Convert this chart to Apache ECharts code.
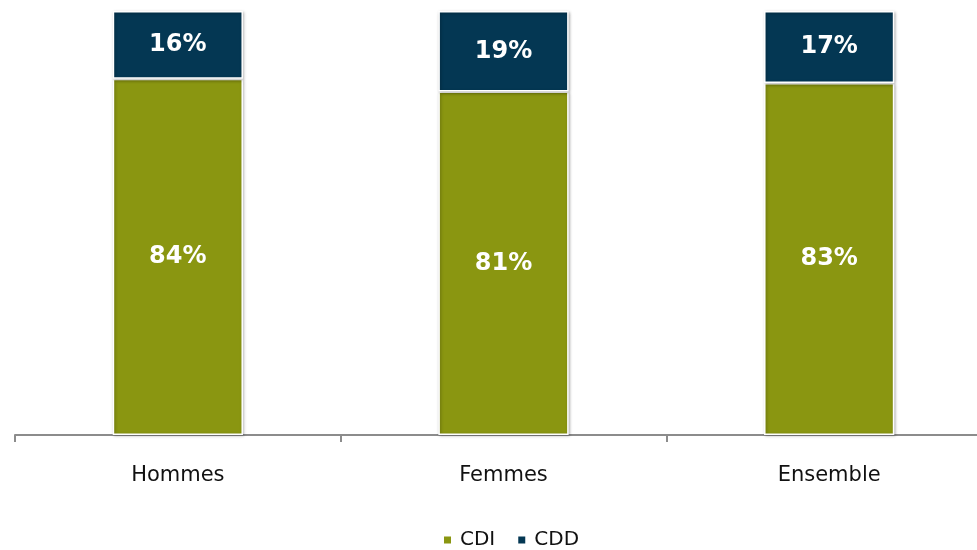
<!DOCTYPE html>
<html><head><meta charset="utf-8">
<script src="https://cdn.jsdelivr.net/npm/echarts@6/dist/echarts.min.js"></script>
<style>html,body{margin:0;padding:0;background:#fff;overflow:hidden;width:977px;height:550px}#c{width:992px;height:550px}</style>
</head><body><div id="c"></div>
<script>
const categories = ['Hommes', 'Femmes', 'Ensemble'];
const cdi = [84, 81, 83];
const cdd = [16, 19, 17];
const seriesNames = ['CDI', 'CDD'];

const chart = echarts.init(document.getElementById('c'));
const itemBase = {
  borderColor: '#ffffff', borderWidth: 1.5,
  shadowBlur: 3, shadowColor: 'rgba(0,0,0,0.3)', shadowOffsetX: 1, shadowOffsetY: 1
};
const labelBase = {
  show: true, position: 'inside', color: '#ffffff',
  fontFamily: 'DejaVu Sans', fontWeight: 'bold', fontSize: 24,
  formatter: p => p.value + '%'
};
chart.setOption({
  animation: false,
  grid: { left: 15, right: 0, top: 11, height: 424, containLabel: false },
  legend: {
    top: 525, left: 437, itemWidth: 9, itemHeight: 9, itemGap: 21,
    icon: 'rect',
    textStyle: { fontFamily: 'DejaVu Sans', fontSize: 20, color: '#111', padding: [0, 0, 0, 3] },
    data: seriesNames
  },
  xAxis: {
    type: 'category', data: categories,
    axisLine: { lineStyle: { color: '#8c8c8c', width: 2 } },
    axisTick: { show: true, length: 7, lineStyle: { color: '#8c8c8c', width: 2 } },
    axisLabel: { margin: 30, fontFamily: 'DejaVu Sans', fontSize: 21, color: '#111' }
  },
  yAxis: { type: 'value', min: 0, max: 100, show: false, splitLine: { show: false } },
  series: [
    { name: seriesNames[0], type: 'bar', stack: 's', data: cdi, barWidth: '40%',
      itemStyle: Object.assign({ color: '#8a9611' }, itemBase), label: labelBase },
    { name: seriesNames[1], type: 'bar', stack: 's', data: cdd, barWidth: '40%',
      itemStyle: Object.assign({ color: '#043753' }, itemBase), label: labelBase }
  ]
});
</script></body></html>
